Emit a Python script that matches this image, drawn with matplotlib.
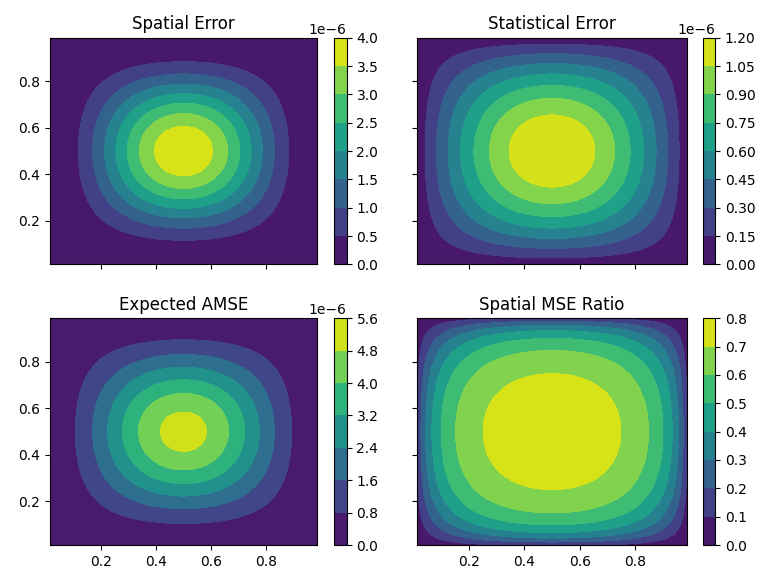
import numpy as np
import matplotlib
matplotlib.use('Agg')
import matplotlib.pyplot as plt

# peak amplitudes
spatial_amp = 3.93e-6
stat_amp = 1.19e-6

# contour levels shown on each colourbar
spatial_levels = [0.0, 0.5e-6, 1.0e-6, 1.5e-6, 2.0e-6, 2.5e-6, 3.0e-6, 3.5e-6, 4.0e-6]
stat_levels = [0.0, 0.15e-6, 0.30e-6, 0.45e-6, 0.60e-6, 0.75e-6, 0.90e-6, 1.05e-6, 1.20e-6]
amse_levels = [0.0, 0.8e-6, 1.6e-6, 2.4e-6, 3.2e-6, 4.0e-6, 4.8e-6, 5.6e-6]
ratio_levels = [0.0, 0.1, 0.2, 0.3, 0.4, 0.5, 0.6, 0.7, 0.8]

titles = ['Spatial Error', 'Statistical Error', 'Expected AMSE', 'Spatial MSE Ratio']

# cell-centre grid on the unit square
n = 40
x = (np.arange(n) + 0.5) / n
X, Y = np.meshgrid(x, x)
shape = np.sin(np.pi * X) * np.sin(np.pi * Y)

spatial = spatial_amp * shape**2
stat = stat_amp * shape
amse = spatial + stat
ratio = spatial / amse

fields = [spatial, stat, amse, ratio]
levels = [spatial_levels, stat_levels, amse_levels, ratio_levels]

fig = plt.figure(figsize=(7.7, 5.74), dpi=100)

# [left, bottom, width, height] of each panel and its colourbar
ax_pos = [[0.0649, 0.5395, 0.3468, 0.3948],
          [0.5420, 0.5395, 0.3499, 0.3948],
          [0.0649, 0.0505, 0.3468, 0.3950],
          [0.5420, 0.0505, 0.3499, 0.3950]]
cb_pos = [[0.4338, 0.5395, 0.0165, 0.3948],
          [0.9126, 0.5395, 0.0162, 0.3948],
          [0.4338, 0.0505, 0.0165, 0.3950],
          [0.9126, 0.0505, 0.0162, 0.3950]]

axes = []
for i in range(4):
    if i == 0:
        ax = fig.add_axes(ax_pos[i])
    else:
        ax = fig.add_axes(ax_pos[i], sharex=axes[0], sharey=axes[0])
    axes.append(ax)
    cs = ax.contourf(X, Y, fields[i], levels=levels[i], cmap='viridis')
    ax.set_title(titles[i])
    cax = fig.add_axes(cb_pos[i])
    fig.colorbar(cs, cax=cax)

for ax in axes[:2]:
    ax.tick_params(labelbottom=False)
for ax in [axes[1], axes[3]]:
    ax.tick_params(labelleft=False)

fig.savefig('out.png', dpi=100)
